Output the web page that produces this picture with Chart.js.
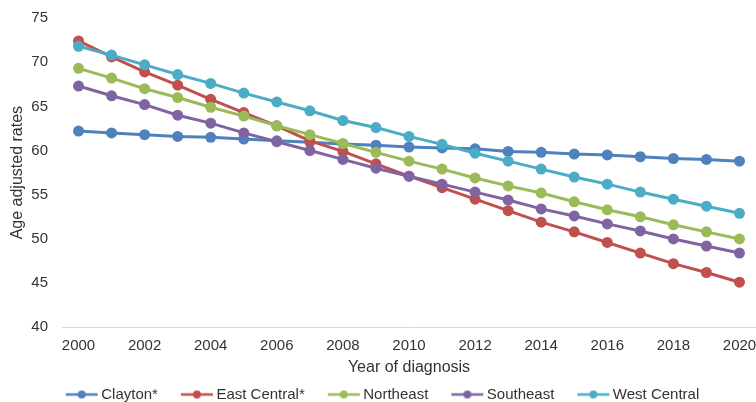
<!DOCTYPE html>
<html>
<head>
<meta charset="utf-8">
<script src="https://cdn.jsdelivr.net/npm/chart.js@4.4.1/dist/chart.umd.min.js"></script>
<style>
  body { margin: 0; background: #fff; }
  #wrap { width: 756px; height: 402px; }
</style>
</head>
<body>
<div id="wrap"><canvas id="chart" width="756" height="402"></canvas></div>
<script>
// 연도 (x축)
const years = ["2000", "2001", "2002", "2003", "2004", "2005", "2006", "2007", "2008", "2009", "2010",
  "2011", "2012", "2013", "2014", "2015", "2016", "2017", "2018", "2019", "2020"];

// 지역별 연령보정률
const clayton = [62.2, 62.0, 61.8, 61.6, 61.5, 61.3, 61.1, 60.95, 60.75, 60.6, 60.4,
  60.3, 60.2, 59.9, 59.8, 59.6, 59.5, 59.3, 59.1, 59.0, 58.8];
const eastCentral = [72.4, 70.6, 68.9, 67.4, 65.8, 64.3, 62.8, 61.1, 59.9, 58.5, 57.1,
  55.8, 54.5, 53.2, 51.9, 50.8, 49.6, 48.4, 47.2, 46.2, 45.1];
const northeast = [69.3, 68.2, 67.0, 66.0, 64.9, 63.9, 62.8, 61.8, 60.8, 59.8, 58.8,
  57.9, 56.9, 56.0, 55.2, 54.2, 53.3, 52.5, 51.6, 50.8, 50.0];
const southeast = [67.3, 66.2, 65.2, 64.0, 63.1, 62.0, 61.0, 60.0, 59.0, 58.0, 57.1,
  56.2, 55.3, 54.4, 53.4, 52.6, 51.7, 50.9, 50.0, 49.2, 48.4];
const westCentral = [71.8, 70.8, 69.7, 68.6, 67.6, 66.5, 65.5, 64.5, 63.4, 62.6, 61.6,
  60.7, 59.7, 58.8, 57.9, 57.0, 56.2, 55.3, 54.5, 53.7, 52.9];

const seriesNames = ["Clayton*", "East Central*", "Northeast", "Southeast", "West Central"];
const seriesColors = ["#4F81BD", "#C0504D", "#9BBB59", "#8064A2", "#4BACC6"];
const seriesValues = [clayton, eastCentral, northeast, southeast, westCentral];

const FONT = "'Liberation Sans', Arial, sans-serif";
const TEXT = "#333333";

// 범례용 아이콘 (선 + 점)
function legendIcon(color) {
  const c = document.createElement("canvas");
  c.width = 42;
  c.height = 12;
  const g = c.getContext("2d");
  g.strokeStyle = color;
  g.lineWidth = 2.5;
  g.beginPath();
  g.moveTo(7, 6);
  g.lineTo(39, 6);
  g.stroke();
  g.fillStyle = color;
  g.beginPath();
  g.arc(23, 6, 4, 0, Math.PI * 2);
  g.fill();
  return c;
}

const datasets = seriesValues.map((vals, i) => ({
  label: seriesNames[i],
  data: vals,
  borderColor: seriesColors[i],
  backgroundColor: seriesColors[i],
  borderWidth: 3,
  pointRadius: 5.5,
  pointHoverRadius: 5.5,
  pointBorderWidth: 0,
  tension: 0,
  order: seriesValues.length - i, // 뒤 시리즈가 위에 그려지도록
}));

new Chart(document.getElementById("chart"), {
  type: "line",
  data: { labels: years, datasets: datasets },
  options: {
    responsive: false,
    animation: false,
    layout: { autoPadding: false, padding: { left: 9, right: 0, top: 18, bottom: -10 } },
    scales: {
      x: {
        offset: true,
        grid: { display: false, drawTicks: false },
        border: { display: true, color: "#D9D9D9", width: 1 },
        ticks: {
          autoSkip: false,
          maxRotation: 0,
          padding: 10,
          color: TEXT,
          font: { family: FONT, size: 15 },
          callback: function (value, idx) {
            return idx % 2 === 0 ? this.getLabelForValue(value) : "";
          },
        },
        title: {
          display: true,
          text: "Year of diagnosis",
          color: TEXT,
          font: { family: FONT, size: 16 },
          padding: { top: -7.5, bottom: -13 },
        },
        afterFit(scale) {
          scale.paddingLeft = 0;
          scale.paddingRight = 0;
        },
      },
      y: {
        min: 40,
        max: 75,
        grid: { display: false, drawTicks: false },
        border: { display: false },
        ticks: {
          stepSize: 5,
          padding: 14,
          color: TEXT,
          font: { family: FONT, size: 15 },
        },
        title: {
          display: true,
          text: "Age adjusted rates",
          color: TEXT,
          font: { family: FONT, size: 16 },
          padding: { top: -1, bottom: 4 },
        },
        afterFit(scale) {
          scale.width = 53; // 플롯 영역 왼쪽을 62px에 맞춤
          scale.paddingTop = 0;
          scale.paddingBottom = 0;
        },
      },
    },
    plugins: {
      tooltip: { enabled: false },
      legend: {
        position: "bottom",
        labels: {
          usePointStyle: true,
          pointStyleWidth: 28,
          padding: 23,
          color: TEXT,
          font: { family: FONT, size: 15 },
          generateLabels(chart) {
            const items = Chart.defaults.plugins.legend.labels.generateLabels(chart);
            items.forEach((it) => {
              it.pointStyle = legendIcon(seriesColors[it.datasetIndex]);
            });
            return items.sort((a, b) => a.datasetIndex - b.datasetIndex);
          },
        },
      },
    },
  },
});
</script>
</body>
</html>
